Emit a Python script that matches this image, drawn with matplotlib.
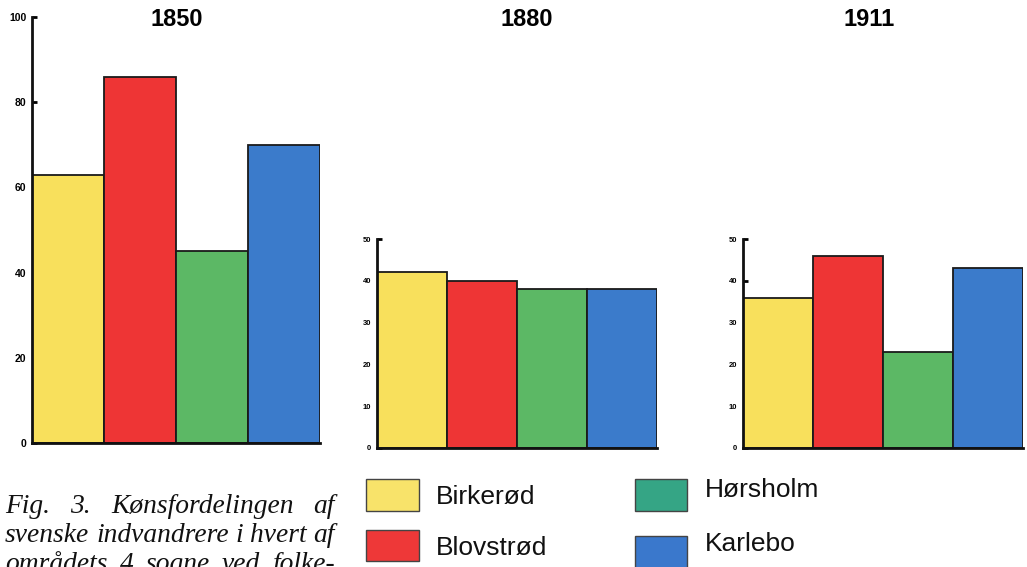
import matplotlib
matplotlib.use('Agg')
import matplotlib.pyplot as plt
from matplotlib.patches import Rectangle

# ---- data ----
years = ['1850', '1880', '1911']
parishes = ['Birkerød', 'Blovstrød', 'Hørsholm', 'Karlebo']
values_1850 = [63, 86, 45, 70]
values_1880 = [42, 40, 38, 38]
values_1911 = [36, 46, 23, 43]
y_max = [100, 50, 50]
y_ticks_1850 = [0, 20, 40, 60, 80, 100]
y_ticks_small = [0, 10, 20, 30, 40, 50]
bar_colors = ['#F8E05C', '#EE3535', '#5CB865', '#3B7BCB']
legend_colors = ['#F8E36A', '#EE3838', '#35A585', '#3A78CC']
caption_lines = ['Fig. 3. Kønsfordelingen af',
                 'svenske indvandrere i hvert af',
                 'områdets 4 sogne ved folke-']

W, H = 1027, 567
fig = plt.figure(figsize=(W / 100, H / 100), dpi=100)
fig.patch.set_facecolor('white')


def fx(px):
    return px / W


def fy(py):
    return 1 - py / H


sans = ['Liberation Sans', 'DejaVu Sans']

panels = [(32, 320, 17, 443), (377, 657, 239, 448), (743, 1023, 239, 448)]
all_values = [values_1850, values_1880, values_1911]
all_ticks = [y_ticks_1850, y_ticks_small, y_ticks_small]
label_sizes = [7.5, 5.5, 5.5]
title_x = [177, 527, 869]

for i, (l, r, t, b) in enumerate(panels):
    ax = fig.add_axes([fx(l), fy(b), (r - l) / W, (b - t) / H])
    ax.set_axisbelow(True)
    ax.bar(range(len(parishes)), all_values[i], width=1.0, color=bar_colors,
           edgecolor='#1a1a1a', linewidth=1.3)
    ax.set_xlim(-0.5, 3.5)
    ax.set_ylim(0, y_max[i])
    for s in ['top', 'right']:
        ax.spines[s].set_visible(False)
    for s in ['left', 'bottom']:
        ax.spines[s].set_linewidth(2.0)
        ax.spines[s].set_color('#111111')
    ax.set_xticks([])
    ax.set_yticks(all_ticks[i])
    ax.set_yticklabels([str(v) for v in all_ticks[i]])
    ax.tick_params(axis='y', direction='in', length=3.5, width=2,
                   labelsize=label_sizes[i], pad=4)
    for lab in ax.get_yticklabels():
        lab.set_fontweight('bold')
        lab.set_family(sans)
    ax.patch.set_alpha(0)
    fig.text(fx(title_x[i]), fy(20), years[i], ha='center', va='center',
             fontsize=17, fontweight='bold', family=sans)

# ---- legend ----
legend_boxes = [(366, 479, 53, 32), (366, 530, 53, 31), (635, 479, 52, 32), (635, 536, 52, 32)]
legend_text = [(436, 504), (436, 555), (705, 497), (705, 551)]
for k, name in enumerate(parishes):
    x0, y0, w, h = legend_boxes[k]
    fig.add_artist(Rectangle((fx(x0), fy(y0 + h)), w / W, h / H,
                             transform=fig.transFigure,
                             facecolor=legend_colors[k], edgecolor='#444444',
                             linewidth=1.0))
    tx, ty = legend_text[k]
    fig.text(fx(tx), fy(ty), name, ha='left', va='baseline', fontsize=19,
             family=sans, color='#111111')

# ---- caption (justified) ----
serif = ['Liberation Serif', 'DejaVu Serif']
renderer = fig.canvas.get_renderer()
left_px, right_px = 5, 335
target = right_px - left_px
probe = fig.text(0, 0, caption_lines[1], fontsize=20, family=serif, style='italic')
pw = probe.get_window_extent(renderer).width
probe.remove()
cap_size = 20 * target / pw
baselines = [513, 542, 571]
for line, base in zip(caption_lines, baselines):
    words = line.split(' ')
    widths = []
    for wd in words:
        tt = fig.text(0, 0, wd, fontsize=cap_size, family=serif, style='italic')
        widths.append(tt.get_window_extent(renderer).width)
        tt.remove()
    gap = (target - sum(widths)) / (len(words) - 1)
    x = left_px
    for wd, wv in zip(words, widths):
        fig.text(fx(x), fy(base), wd, ha='left', va='baseline', fontsize=cap_size,
                 family=serif, style='italic', color='#111111')
        x += wv + gap

fig.savefig('out.png', dpi=100)
